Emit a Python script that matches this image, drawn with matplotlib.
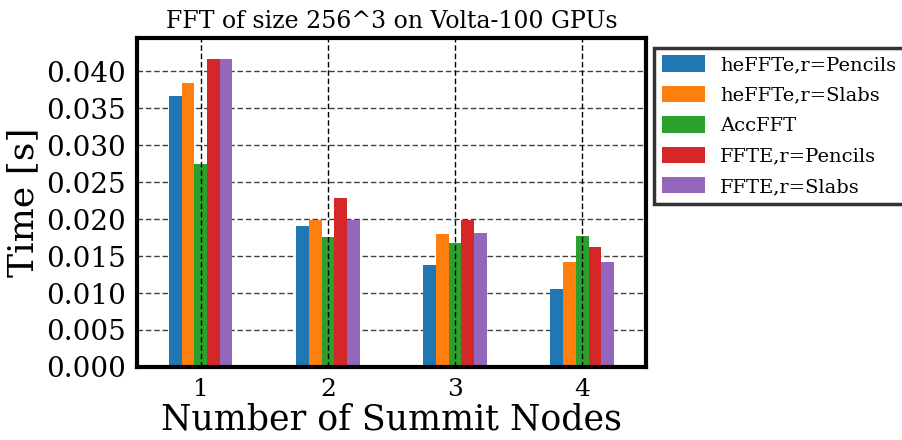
import numpy as np
import matplotlib
matplotlib.use("Agg")
import matplotlib.pyplot as plt

# data
nodes = [1, 2, 3, 4]
series_labels = ["heFFTe,r=Pencils", "heFFTe,r=Slabs", "AccFFT", "FFTE,r=Pencils", "FFTE,r=Slabs"]
heffte_pencils = [0.0367, 0.0190, 0.0138, 0.0106]
heffte_slabs = [0.0384, 0.0199, 0.0180, 0.0142]
accfft = [0.0274, 0.0176, 0.0168, 0.0177]
ffte_pencils = [0.0416, 0.0229, 0.0199, 0.0162]
ffte_slabs = [0.0417, 0.0199, 0.0181, 0.0142]
colors = ["#1f77b4", "#ff7f0e", "#2ca02c", "#d62728", "#9467bd"]

plt.rcParams["font.family"] = ["DejaVu Serif"]
plt.rcParams["mathtext.fontset"] = "dejavuserif"

fig = plt.figure(figsize=(9.02, 4.40), dpi=100)
ax = fig.add_axes([0.152, 0.166, 0.564, 0.748])

x = np.array(nodes)
width = 0.1
all_series = [heffte_pencils, heffte_slabs, accfft, ffte_pencils, ffte_slabs]
for i, (vals, lab, col) in enumerate(zip(all_series, series_labels, colors)):
    ax.bar(x + (i - 2) * width, vals, width, label=lab, color=col, zorder=2)

ax.set_axisbelow(True)
ax.yaxis.grid(True, color="black", linestyle=(0, (4, 2)), linewidth=1.0, alpha=0.75)
# vertical grid is drawn over the bars in the original
ax.vlines(x, 0, 1, transform=ax.get_xaxis_transform(), colors="black",
          linestyles=(0, (4, 2)), linewidth=1.0, zorder=3)

ax.set_xlim(0.5, 4.5)
ax.set_ylim(0, 0.0445)
ax.set_xticks(nodes)
ticks = np.arange(0, 0.0401, 0.005)
ax.set_yticks(ticks)
ax.set_yticklabels([f"{v:.3f}" for v in ticks])
ax.tick_params(axis="y", length=0, pad=8, labelsize=20)
ax.tick_params(axis="x", length=0, pad=8, labelsize=18)

for sp in ax.spines.values():
    sp.set_linewidth(3)

ax.set_title("FFT of size 256^3 on Volta-100 GPUs", fontsize=17, pad=7)
ax.set_xlabel("Number of Summit Nodes", fontsize=25, labelpad=1)
ax.set_ylabel("Time [s]", fontsize=26, labelpad=4)

leg = ax.legend(loc="upper left", bbox_to_anchor=(1.016, 0.97), borderaxespad=0,
                fontsize=14, fancybox=False, framealpha=1, edgecolor="#333333",
                handlelength=2.2, handleheight=0.9, labelspacing=0.6)
leg.get_frame().set_linewidth(2.5)

fig.savefig("out.png", dpi=100)
